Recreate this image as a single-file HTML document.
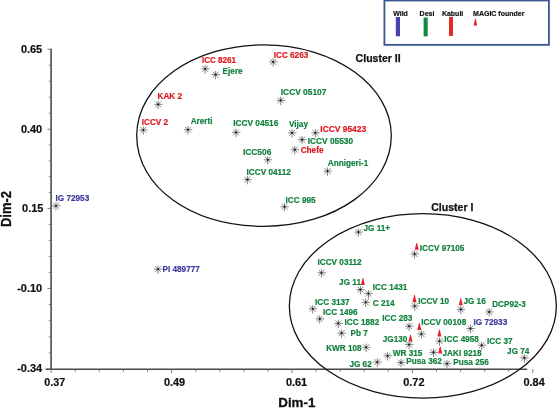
<!DOCTYPE html>
<html><head><meta charset="utf-8"><title>Dim-1 vs Dim-2 cluster plot</title>
<style>
html,body{margin:0;padding:0;background:#fff;}
body{width:557px;height:408px;overflow:hidden;}
svg{display:block;}
text{font-family:"Liberation Sans",Arial,Helvetica,sans-serif;font-weight:bold;}
.l{font-size:8.2px;stroke-width:0.18px;}
.t{font-size:10.6px;fill:#111;stroke:#111;stroke-width:0.2px;}
.lg{font-size:7px;fill:#111;stroke:#111;stroke-width:0.18px;}
.c{font-size:10.55px;fill:#111;stroke:#111;stroke-width:0.25px;}
.ax{font-size:13px;fill:#111;stroke:#111;stroke-width:0.3px;}
</style></head><body>
<svg width="557" height="408" viewBox="0 0 557 408">
<rect width="557" height="408" fill="#fff"/>


<rect x="384.4" y="0.5" width="164.5" height="44.35" fill="#fff" stroke="#38568f" stroke-width="1.8"/>
<text class="lg" x="393.2" y="15.6">Wild</text><text class="lg" x="419.6" y="16.2">Desi</text><text class="lg" x="441.9" y="15.6">Kabuli</text><text class="lg" x="473.1" y="15.7">MAGIC founder</text>
<rect x="395.8" y="17" width="4.2" height="19.3" fill="#4a41b0"/><rect x="423.6" y="17.5" width="4.1" height="18.9" fill="#10893f"/><rect x="449" y="17" width="4" height="18.9" fill="#e62a26"/>
<path d="M475.05 18.7h0.7L477.2 25.6H473.6Z" fill="#e8202a"/>
<g stroke="#484848" fill="none">
<path d="M51.10 48.7V369.85M45.6 369.15H527.2" stroke-width="1.55"/>
<path d="M51.1 49.20h-3.6M51.1 65.20h-2.2M51.1 81.20h-2.2M51.1 97.20h-2.2M51.1 113.20h-2.2M51.1 129.20h-3.6M51.1 145.04h-2.2M51.1 160.88h-2.2M51.1 176.72h-2.2M51.1 192.56h-2.2M51.1 208.40h-3.6M51.1 224.40h-2.2M51.1 240.40h-2.2M51.1 256.40h-2.2M51.1 272.40h-2.2M51.1 288.40h-3.6M51.1 304.55h-2.2M51.1 320.70h-2.2M51.1 336.85h-2.2M51.1 353.00h-2.2M51.1 369.15h-3.6M51.20 369.1v3.8M75.28 369.1v2.6M99.36 369.1v2.6M123.44 369.1v2.6M147.52 369.1v2.6M171.60 369.1v3.8M195.68 369.1v2.6M219.76 369.1v2.6M243.84 369.1v2.6M267.92 369.1v2.6M292.00 369.1v3.8M316.08 369.1v2.6M340.16 369.1v2.6M364.24 369.1v2.6M388.32 369.1v2.6M412.40 369.1v3.8M436.48 369.1v2.6M460.56 369.1v2.6M484.64 369.1v2.6M508.72 369.1v2.6M532.80 369.1v3.8" stroke-width="0.85" stroke="#5e5e5e"/>
</g>
<text class="t" x="20.90" y="52.60" textLength="21.3" lengthAdjust="spacingAndGlyphs">0.65</text>
<text class="t" x="20.90" y="132.75" textLength="21.3" lengthAdjust="spacingAndGlyphs">0.40</text>
<text class="t" x="22.10" y="212.05" textLength="21.3" lengthAdjust="spacingAndGlyphs">0.15</text>
<text class="t" x="17.20" y="292.30" textLength="25.0" lengthAdjust="spacingAndGlyphs">-0.10</text>
<text class="t" x="17.20" y="372.10" textLength="25.0" lengthAdjust="spacingAndGlyphs">-0.34</text>
<text class="t" x="44.30" y="385.6" textLength="20.9" lengthAdjust="spacingAndGlyphs">0.37</text>
<text class="t" x="163.90" y="385.6" textLength="21.3" lengthAdjust="spacingAndGlyphs">0.49</text>
<text class="t" x="285.90" y="385.6" textLength="21.3" lengthAdjust="spacingAndGlyphs">0.61</text>
<text class="t" x="403.20" y="385.6" textLength="21.3" lengthAdjust="spacingAndGlyphs">0.72</text>
<text class="t" x="523.50" y="385.6" textLength="21.3" lengthAdjust="spacingAndGlyphs">0.84</text>
<text class="ax" x="278.3" y="406.8" textLength="37" lengthAdjust="spacingAndGlyphs">Dim-1</text>
<text class="ax" transform="translate(11.1 227.1) rotate(-90) scale(1 1.07)">Dim-2</text>
<path d="M136.70 135.60C136.70 84.99 192.97 44.90 264.00 44.90C334.14 44.90 391.30 85.62 391.30 135.60C391.30 186.03 334.78 226.30 264.00 226.30C191.69 226.30 136.70 187.12 136.70 135.60Z" fill="none" stroke="#111" stroke-width="1.28"/>
<ellipse cx="422.85" cy="305.9" rx="133.5" ry="92.2" fill="none" stroke="#111" stroke-width="1.28"/>
<text class="c" x="355.6" y="61.95">Cluster II</text><text class="c" x="431.2" y="211.15">Cluster I</text>
<g stroke="#2a2a2a" stroke-width="0.58" fill="#111">
<g transform="translate(205.2 68.9)"><path d="M0-3.7V4.7M-4 0H4.4M-2.9-2.9L3 3M-2.9 2.9L3-3" fill="none"/><circle r="0.85" stroke="none"/></g>
<g transform="translate(215.6 74.6)"><path d="M0-3.7V4.7M-4 0H4.4M-2.9-2.9L3 3M-2.9 2.9L3-3" fill="none"/><circle r="0.85" stroke="none"/></g>
<g transform="translate(158.2 104.4)"><path d="M0-3.7V4.7M-4 0H4.4M-2.9-2.9L3 3M-2.9 2.9L3-3" fill="none"/><circle r="0.85" stroke="none"/></g>
<g transform="translate(143.3 130.0)"><path d="M0-3.7V4.7M-4 0H4.4M-2.9-2.9L3 3M-2.9 2.9L3-3" fill="none"/><circle r="0.85" stroke="none"/></g>
<g transform="translate(187.9 129.7)"><path d="M0-3.7V4.7M-4 0H4.4M-2.9-2.9L3 3M-2.9 2.9L3-3" fill="none"/><circle r="0.85" stroke="none"/></g>
<g transform="translate(273.2 61.9)"><path d="M0-3.7V4.7M-4 0H4.4M-2.9-2.9L3 3M-2.9 2.9L3-3" fill="none"/><circle r="0.85" stroke="none"/></g>
<g transform="translate(280.7 100.4)"><path d="M0-3.7V4.7M-4 0H4.4M-2.9-2.9L3 3M-2.9 2.9L3-3" fill="none"/><circle r="0.85" stroke="none"/></g>
<g transform="translate(236.0 132.4)"><path d="M0-3.7V4.7M-4 0H4.4M-2.9-2.9L3 3M-2.9 2.9L3-3" fill="none"/><circle r="0.85" stroke="none"/></g>
<g transform="translate(292.1 132.9)"><path d="M0-3.7V4.7M-4 0H4.4M-2.9-2.9L3 3M-2.9 2.9L3-3" fill="none"/><circle r="0.85" stroke="none"/></g>
<g transform="translate(315.4 132.9)"><path d="M0-3.7V4.7M-4 0H4.4M-2.9-2.9L3 3M-2.9 2.9L3-3" fill="none"/><circle r="0.85" stroke="none"/></g>
<g transform="translate(302.1 139.7)"><path d="M0-3.7V4.7M-4 0H4.4M-2.9-2.9L3 3M-2.9 2.9L3-3" fill="none"/><circle r="0.85" stroke="none"/></g>
<g transform="translate(294.8 149.7)"><path d="M0-3.7V4.7M-4 0H4.4M-2.9-2.9L3 3M-2.9 2.9L3-3" fill="none"/><circle r="0.85" stroke="none"/></g>
<g transform="translate(267.7 159.8)"><path d="M0-3.7V4.7M-4 0H4.4M-2.9-2.9L3 3M-2.9 2.9L3-3" fill="none"/><circle r="0.85" stroke="none"/></g>
<g transform="translate(247.4 179.6)"><path d="M0-3.7V4.7M-4 0H4.4M-2.9-2.9L3 3M-2.9 2.9L3-3" fill="none"/><circle r="0.85" stroke="none"/></g>
<g transform="translate(327.5 171.1)"><path d="M0-3.7V4.7M-4 0H4.4M-2.9-2.9L3 3M-2.9 2.9L3-3" fill="none"/><circle r="0.85" stroke="none"/></g>
<g transform="translate(284.5 206.8)"><path d="M0-3.7V4.7M-4 0H4.4M-2.9-2.9L3 3M-2.9 2.9L3-3" fill="none"/><circle r="0.85" stroke="none"/></g>
<g transform="translate(56.0 205.8)"><path d="M0-3.7V4.7M-4 0H4.4M-2.9-2.9L3 3M-2.9 2.9L3-3" fill="none"/><circle r="0.85" stroke="none"/></g>
<g transform="translate(158.0 269.2)"><path d="M0-3.7V4.7M-4 0H4.4M-2.9-2.9L3 3M-2.9 2.9L3-3" fill="none"/><circle r="0.85" stroke="none"/></g>
<g transform="translate(358.4 232.1)"><path d="M0-3.7V4.7M-4 0H4.4M-2.9-2.9L3 3M-2.9 2.9L3-3" fill="none"/><circle r="0.85" stroke="none"/></g>
<g transform="translate(321.5 272.8)"><path d="M0-3.7V4.7M-4 0H4.4M-2.9-2.9L3 3M-2.9 2.9L3-3" fill="none"/><circle r="0.85" stroke="none"/></g>
<g transform="translate(360.4 289.6)"><path d="M0-3.7V4.7M-4 0H4.4M-2.9-2.9L3 3M-2.9 2.9L3-3" fill="none"/><circle r="0.85" stroke="none"/></g>
<g transform="translate(368.5 293.7)"><path d="M0-3.7V4.7M-4 0H4.4M-2.9-2.9L3 3M-2.9 2.9L3-3" fill="none"/><circle r="0.85" stroke="none"/></g>
<g transform="translate(365.7 302.3)"><path d="M0-3.7V4.7M-4 0H4.4M-2.9-2.9L3 3M-2.9 2.9L3-3" fill="none"/><circle r="0.85" stroke="none"/></g>
<g transform="translate(312.7 308.8)"><path d="M0-3.7V4.7M-4 0H4.4M-2.9-2.9L3 3M-2.9 2.9L3-3" fill="none"/><circle r="0.85" stroke="none"/></g>
<g transform="translate(319.7 318.9)"><path d="M0-3.7V4.7M-4 0H4.4M-2.9-2.9L3 3M-2.9 2.9L3-3" fill="none"/><circle r="0.85" stroke="none"/></g>
<g transform="translate(338.3 323.4)"><path d="M0-3.7V4.7M-4 0H4.4M-2.9-2.9L3 3M-2.9 2.9L3-3" fill="none"/><circle r="0.85" stroke="none"/></g>
<g transform="translate(341.6 333.2)"><path d="M0-3.7V4.7M-4 0H4.4M-2.9-2.9L3 3M-2.9 2.9L3-3" fill="none"/><circle r="0.85" stroke="none"/></g>
<g transform="translate(366.2 347.3)"><path d="M0-3.7V4.7M-4 0H4.4M-2.9-2.9L3 3M-2.9 2.9L3-3" fill="none"/><circle r="0.85" stroke="none"/></g>
<g transform="translate(377.3 362.1)"><path d="M0-3.7V4.7M-4 0H4.4M-2.9-2.9L3 3M-2.9 2.9L3-3" fill="none"/><circle r="0.85" stroke="none"/></g>
<g transform="translate(387.6 355.8)"><path d="M0-3.7V4.7M-4 0H4.4M-2.9-2.9L3 3M-2.9 2.9L3-3" fill="none"/><circle r="0.85" stroke="none"/></g>
<g transform="translate(401.0 362.6)"><path d="M0-3.7V4.7M-4 0H4.4M-2.9-2.9L3 3M-2.9 2.9L3-3" fill="none"/><circle r="0.85" stroke="none"/></g>
<g transform="translate(409.1 344.6)"><path d="M0-3.7V4.7M-4 0H4.4M-2.9-2.9L3 3M-2.9 2.9L3-3" fill="none"/><circle r="0.85" stroke="none"/></g>
<g transform="translate(409.1 326.2)"><path d="M0-3.7V4.7M-4 0H4.4M-2.9-2.9L3 3M-2.9 2.9L3-3" fill="none"/><circle r="0.85" stroke="none"/></g>
<g transform="translate(414.6 254.0)"><path d="M0-3.7V4.7M-4 0H4.4M-2.9-2.9L3 3M-2.9 2.9L3-3" fill="none"/><circle r="0.85" stroke="none"/></g>
<g transform="translate(414.7 306.0)"><path d="M0-3.7V4.7M-4 0H4.4M-2.9-2.9L3 3M-2.9 2.9L3-3" fill="none"/><circle r="0.85" stroke="none"/></g>
<g transform="translate(460.8 309.4)"><path d="M0-3.7V4.7M-4 0H4.4M-2.9-2.9L3 3M-2.9 2.9L3-3" fill="none"/><circle r="0.85" stroke="none"/></g>
<g transform="translate(489.2 311.9)"><path d="M0-3.7V4.7M-4 0H4.4M-2.9-2.9L3 3M-2.9 2.9L3-3" fill="none"/><circle r="0.85" stroke="none"/></g>
<g transform="translate(421.4 334.0)"><path d="M0-3.7V4.7M-4 0H4.4M-2.9-2.9L3 3M-2.9 2.9L3-3" fill="none"/><circle r="0.85" stroke="none"/></g>
<g transform="translate(470.4 328.5)"><path d="M0-3.7V4.7M-4 0H4.4M-2.9-2.9L3 3M-2.9 2.9L3-3" fill="none"/><circle r="0.85" stroke="none"/></g>
<g transform="translate(439.5 341.1)"><path d="M0-3.7V4.7M-4 0H4.4M-2.9-2.9L3 3M-2.9 2.9L3-3" fill="none"/><circle r="0.85" stroke="none"/></g>
<g transform="translate(481.7 345.3)"><path d="M0-3.7V4.7M-4 0H4.4M-2.9-2.9L3 3M-2.9 2.9L3-3" fill="none"/><circle r="0.85" stroke="none"/></g>
<g transform="translate(433.5 352.4)"><path d="M0-3.7V4.7M-4 0H4.4M-2.9-2.9L3 3M-2.9 2.9L3-3" fill="none"/><circle r="0.85" stroke="none"/></g>
<g transform="translate(447.0 363.7)"><path d="M0-3.7V4.7M-4 0H4.4M-2.9-2.9L3 3M-2.9 2.9L3-3" fill="none"/><circle r="0.85" stroke="none"/></g>
<g transform="translate(524.4 357.9)"><path d="M0-3.7V4.7M-4 0H4.4M-2.9-2.9L3 3M-2.9 2.9L3-3" fill="none"/><circle r="0.85" stroke="none"/></g>
</g>
<path d="M362.55 278.10h0.7L364.90 285.00H360.90Z" fill="#e8202a"/>
<path d="M416.35 242.90h0.7L418.70 249.80H414.70Z" fill="#e8202a"/>
<path d="M414.15 295.10h0.7L416.50 302.20H412.50Z" fill="#e8202a"/>
<path d="M460.45 298.30h0.7L462.80 305.20H458.80Z" fill="#e8202a"/>
<path d="M418.95 323.00h0.7L421.30 329.90H417.30Z" fill="#e8202a"/>
<path d="M439.05 329.80h0.7L441.40 336.60H437.40Z" fill="#e8202a"/>
<path d="M410.15 334.70h0.7L412.50 341.60H408.50Z" fill="#e8202a"/>
<path d="M439.85 346.60h0.7L442.20 353.50H438.20Z" fill="#e8202a"/>
<text class="l" x="202.0" y="63.4" fill="#e0161d" stroke="#e0161d" textLength="34.00" lengthAdjust="spacingAndGlyphs">ICC 8261</text>
<text class="l" x="222.6" y="74.4" fill="#10803d" stroke="#10803d">Ejere</text>
<text class="l" x="157.5" y="99.0" fill="#e0161d" stroke="#e0161d">KAK 2</text>
<text class="l" x="141.7" y="124.6" fill="#e0161d" stroke="#e0161d">ICCV 2</text>
<text class="l" x="190.7" y="123.9" fill="#10803d" stroke="#10803d">Arerti</text>
<text class="l" x="273.7" y="57.5" fill="#e0161d" stroke="#e0161d">ICC 6263</text>
<text class="l" x="280.8" y="94.5" fill="#10803d" stroke="#10803d" textLength="45.60" lengthAdjust="spacingAndGlyphs">ICCV 05107</text>
<text class="l" x="233.2" y="126.2" fill="#10803d" stroke="#10803d" textLength="45.15" lengthAdjust="spacingAndGlyphs">ICCV 04516</text>
<text class="l" x="289.0" y="127.4" fill="#10803d" stroke="#10803d">Vijay</text>
<text class="l" x="320.3" y="132.1" fill="#e0161d" stroke="#e0161d" textLength="45.85" lengthAdjust="spacingAndGlyphs">ICCV 95423</text>
<text class="l" x="307.7" y="143.8" fill="#10803d" stroke="#10803d" textLength="45.35" lengthAdjust="spacingAndGlyphs">ICCV 05530</text>
<text class="l" x="300.7" y="153.1" fill="#e0161d" stroke="#e0161d">Chefe</text>
<text class="l" x="242.9" y="155.0" fill="#10803d" stroke="#10803d" textLength="28.50" lengthAdjust="spacingAndGlyphs">ICC506</text>
<text class="l" x="246.6" y="175.1" fill="#10803d" stroke="#10803d">ICCV 04112</text>
<text class="l" x="327.8" y="165.7" fill="#10803d" stroke="#10803d">Annigeri-1</text>
<text class="l" x="285.6" y="202.6" fill="#10803d" stroke="#10803d">ICC 995</text>
<text class="l" x="55.5" y="200.6" fill="#3a3a9c" stroke="#3a3a9c">IG 72953</text>
<text class="l" x="162.5" y="271.8" fill="#3a3a9c" stroke="#3a3a9c">PI 489777</text>
<text class="l" x="363.5" y="230.5" fill="#10803d" stroke="#10803d">JG 11+</text>
<text class="l" x="317.5" y="265.2" fill="#10803d" stroke="#10803d">ICCV 03112</text>
<text class="l" x="339.1" y="285.3" fill="#10803d" stroke="#10803d">JG 11</text>
<text class="l" x="372.8" y="290.3" fill="#10803d" stroke="#10803d">ICC 1431</text>
<text class="l" x="372.8" y="305.9" fill="#10803d" stroke="#10803d">C 214</text>
<text class="l" x="315.0" y="305.0" fill="#10803d" stroke="#10803d">ICC 3137</text>
<text class="l" x="323.0" y="315.4" fill="#10803d" stroke="#10803d">ICC 1496</text>
<text class="l" x="344.6" y="325.1" fill="#10803d" stroke="#10803d">ICC 1882</text>
<text class="l" x="350.6" y="336.1" fill="#10803d" stroke="#10803d">Pb 7</text>
<text class="l" x="326.2" y="351.2" fill="#10803d" stroke="#10803d">KWR 108</text>
<text class="l" x="349.4" y="367.1" fill="#10803d" stroke="#10803d">JG 62</text>
<text class="l" x="392.8" y="356.0" fill="#10803d" stroke="#10803d">WR 315</text>
<text class="l" x="406.3" y="364.3" fill="#10803d" stroke="#10803d">Pusa 362</text>
<text class="l" x="382.8" y="341.9" fill="#10803d" stroke="#10803d">JG130</text>
<text class="l" x="382.3" y="321.4" fill="#10803d" stroke="#10803d">ICC 283</text>
<text class="l" x="419.8" y="251.2" fill="#10803d" stroke="#10803d">ICCV 97105</text>
<text class="l" x="418.2" y="303.8" fill="#10803d" stroke="#10803d">ICCV 10</text>
<text class="l" x="463.4" y="304.3" fill="#10803d" stroke="#10803d">JG 16</text>
<text class="l" x="492.2" y="306.8" fill="#10803d" stroke="#10803d">DCP92-3</text>
<text class="l" x="421.2" y="325.1" fill="#10803d" stroke="#10803d" textLength="45.10" lengthAdjust="spacingAndGlyphs">ICCV 00108</text>
<text class="l" x="473.5" y="324.9" fill="#3a3a9c" stroke="#3a3a9c">IG 72933</text>
<text class="l" x="444.3" y="341.5" fill="#10803d" stroke="#10803d">ICC 4958</text>
<text class="l" x="487.0" y="344.0" fill="#10803d" stroke="#10803d">ICC 37</text>
<text class="l" x="442.5" y="355.8" fill="#10803d" stroke="#10803d">JAKI 9218</text>
<text class="l" x="453.3" y="364.6" fill="#10803d" stroke="#10803d">Pusa 256</text>
<text class="l" x="507.1" y="354.0" fill="#10803d" stroke="#10803d">JG 74</text>
</svg></body></html>
